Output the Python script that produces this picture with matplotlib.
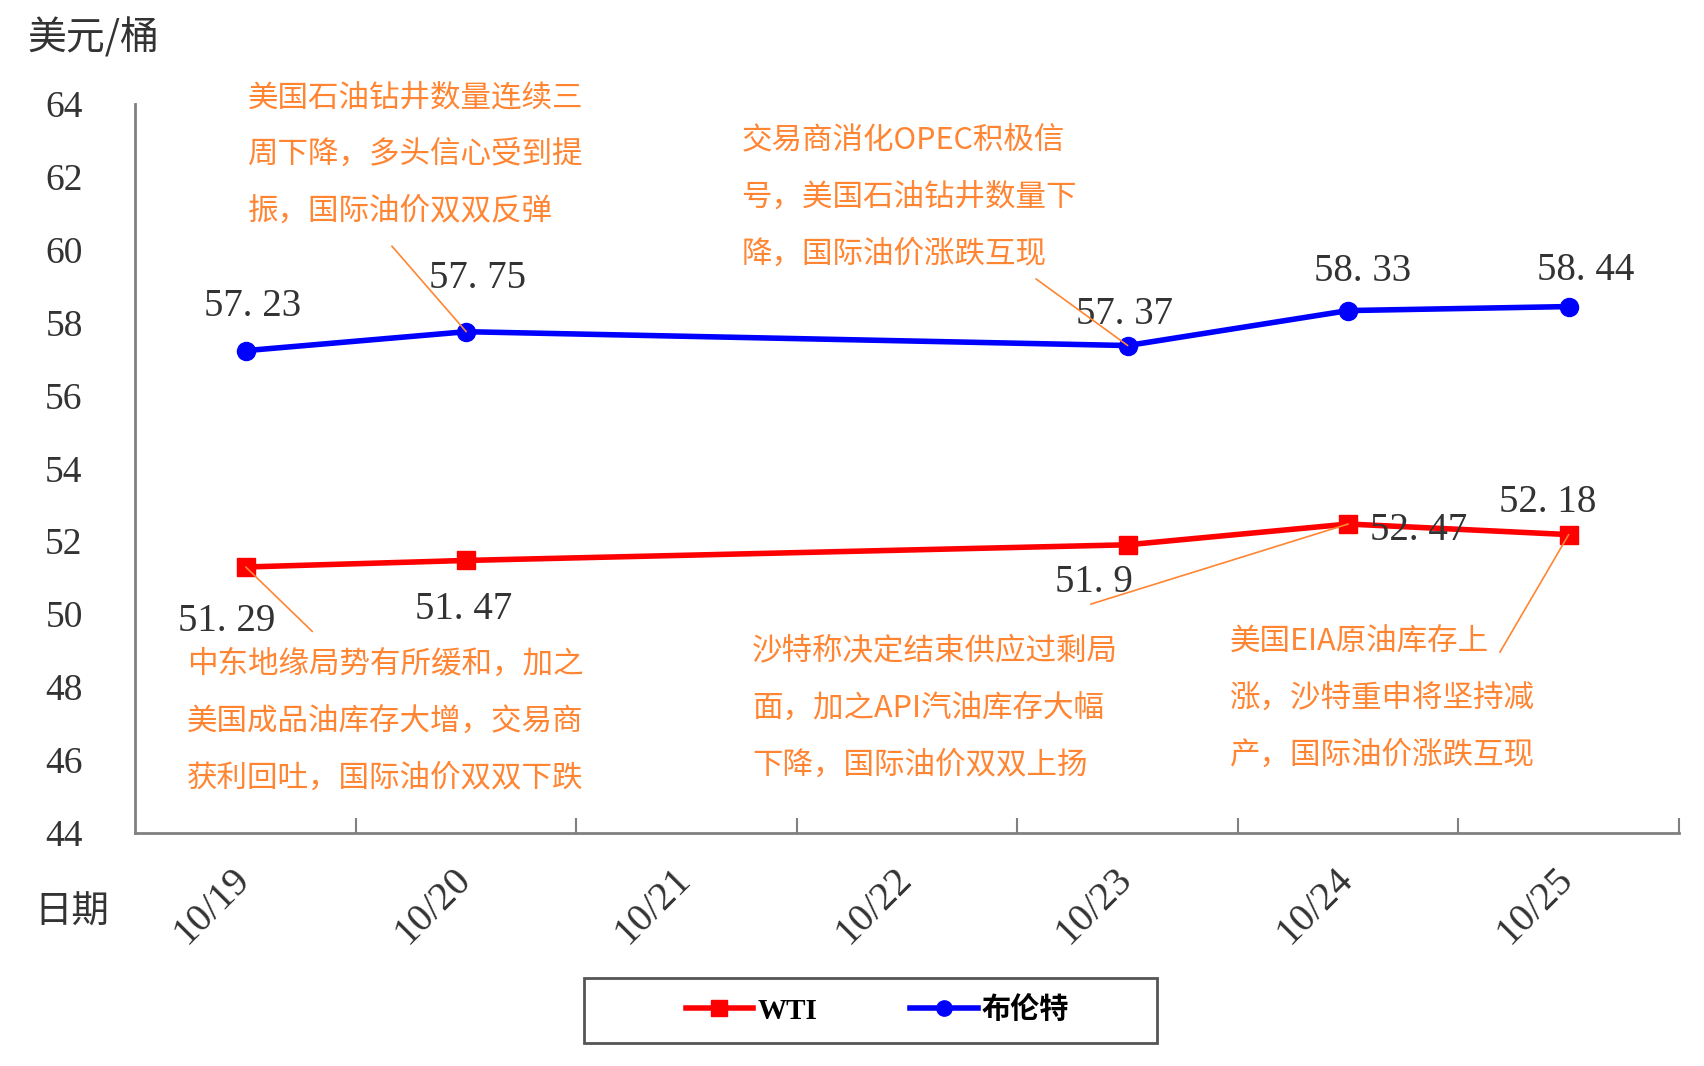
import matplotlib.pyplot as plt
from matplotlib.patches import Rectangle
from matplotlib.lines import Line2D
from matplotlib.transforms import ScaledTranslation

plt.rcParams['font.family'] = ['Noto Sans CJK SC', 'DejaVu Sans']
plt.rcParams['axes.unicode_minus'] = False

# 数据
dates = ['10/19', '10/20', '10/21', '10/22', '10/23', '10/24', '10/25']
traded_idx = [0, 1, 4, 5, 6]          # 10/21、10/22 无数据
wti = [51.29, 51.47, 51.9, 52.47, 52.18]
brent = [57.23, 57.75, 57.37, 58.33, 58.44]
yticks = list(range(44, 65, 2))

# 注释文字
notes = [
    '美国石油钻井数量连续三\n周下降，多头信心受到提\n振，国际油价双双反弹',
    '交易商消化OPEC积极信\n号，美国石油钻井数量下\n降，国际油价涨跌互现',
    '中东地缘局势有所缓和，加之\n美国成品油库存大增，交易商\n获利回吐，国际油价双双下跌',
    '沙特称决定结束供应过剩局\n面，加之API汽油库存大幅\n下降，国际油价双双上扬',
    '美国EIA原油库存上\n涨，沙特重申将坚持减\n产，国际油价涨跌互现',
]

orange = '#FF8533'
grey = '#808080'
serif = 'Liberation Serif'

fig = plt.figure(figsize=(17.04, 10.66), dpi=100)
ax = fig.add_axes([0.0795, 0.219, 0.9058, 0.6834])

ax.plot(traded_idx, wti, color='red', lw=4, marker='s', ms=13, label='WTI', zorder=3)
ax.plot(traded_idx, brent, color='blue', lw=4, marker='o', ms=13, label='布伦特', zorder=3)

ax.set_xlim(-0.5, len(dates) - 0.5)
ax.set_ylim(44, 64)
ax.set_yticks(yticks)
ax.set_yticklabels([str(v) for v in yticks], fontfamily=serif, fontsize=27, color='#333333')
ax.tick_params(axis='y', length=0, pad=38)

# x 轴：刻度线在类别边界，标签在类别中心
ax.set_xticks([i + 0.5 for i in range(len(dates))])
ax.set_xticklabels([])
ax.tick_params(axis='x', which='major', direction='in', length=11, width=1.5, color=grey)
ax.set_xticks(range(len(dates)), minor=True)
ax.set_xticklabels(dates, minor=True, rotation=45, ha='right', va='top',
                   fontfamily=serif, fontsize=29, color='#333333')
ax.tick_params(axis='x', which='minor', length=0, pad=20)
shift = ScaledTranslation(12 / 100, 0, fig.dpi_scale_trans)
for lab in ax.get_xticklabels(minor=True):
    lab.set_transform(lab.get_transform() + shift)

for s in ['top', 'right']:
    ax.spines[s].set_visible(False)
for s in ['left', 'bottom']:
    ax.spines[s].set_color(grey)
    ax.spines[s].set_linewidth(2)

# 数据标签
fmt = lambda v: ('%g' % v).replace('.', '. ')
brent_off = [(5, 32), (8, 38), (-2, 22), (10, 28), (12, 26)]
wti_off = [(-14, -39), (-2, -35), (-24, -27), (51, -5), (-15, 23)]
for x, v, off in zip(traded_idx, brent, brent_off):
    ax.annotate(fmt(v), (x, v), xytext=off, textcoords='offset points',
                ha='center', va='center', fontfamily=serif, fontsize=28, color='#333333')
for x, v, off in zip(traded_idx, wti, wti_off):
    ax.annotate(fmt(v), (x, v), xytext=off, textcoords='offset points',
                ha='center', va='center', fontfamily=serif, fontsize=28, color='#333333')

# 注释文本框位置 (数据坐标) 与引线
note_pos = [(0.01, 64.6), (2.248, 63.43), (-0.267, 49.04), (2.297, 49.40), (4.465, 49.67)]
lead_start = [(0.663, 60.10), (3.584, 59.20), (0.302, 49.52), (3.832, 50.27), (5.688, 48.95)]
lead_end = [(traded_idx[1], brent[1]), (traded_idx[2], brent[2]), (traded_idx[0], wti[0]),
            (traded_idx[3], wti[3]), (traded_idx[4], wti[4])]
for txt, pos, p0, p1 in zip(notes, note_pos, lead_start, lead_end):
    ax.text(pos[0], pos[1], txt, ha='left', va='top', fontsize=22, color=orange,
            linespacing=2.08, clip_on=False)
    ax.annotate('', xy=p1, xytext=p0,
                arrowprops=dict(arrowstyle='-', color=orange, lw=1.2, shrinkA=0, shrinkB=0),
                zorder=4)

# 轴标题
fig.text(0.016, 0.964, '美元/桶', ha='left', va='center', fontsize=28, color='#333333')
fig.text(0.020, 0.1445, '日期', ha='left', va='center', fontsize=27, color='#333333')

# 图例
fig.patches.append(Rectangle((0.343, 0.0215), 0.336, 0.0615, transform=fig.transFigure,
                             facecolor='white', edgecolor='#555555', lw=2))
handles = [Line2D([], [], color='red', lw=4, marker='s', ms=11),
           Line2D([], [], color='blue', lw=4, marker='o', ms=11)]
fig.legend(handles, ['WTI', '布伦特'], loc='center', bbox_to_anchor=(0.515, 0.052),
           ncol=2, frameon=False, handlelength=2.3, handletextpad=0.15, columnspacing=3.2,
           prop={'family': [serif, 'Noto Sans CJK SC'], 'weight': 'bold', 'size': 21})

plt.savefig('out.png', dpi=100)
plt.close()
